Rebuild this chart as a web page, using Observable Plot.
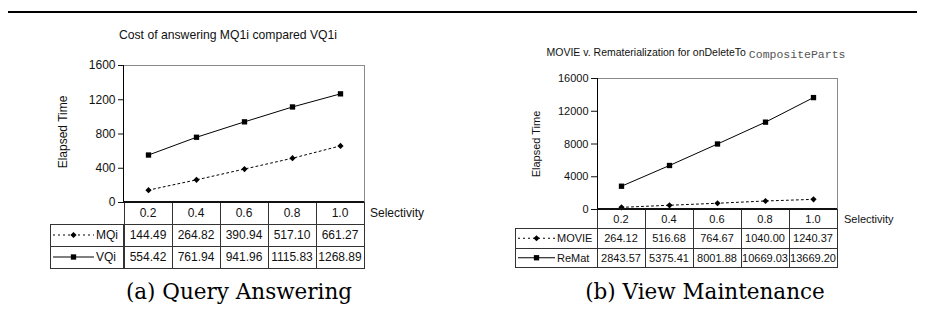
<!DOCTYPE html>
<html>
<head>
<meta charset="utf-8">
<script src="https://cdn.jsdelivr.net/npm/d3@7"></script>
<script src="https://cdn.jsdelivr.net/npm/@observablehq/plot@0.6"></script>
<style>
  body { margin: 0; background: #fff; }
  #root { position: relative; width: 925px; height: 335px; overflow: hidden; font-family: "Liberation Sans", Arial, sans-serif; }
  .toprule { position: absolute; left: 8px; top: 11px; width: 909px; height: 2px; background: #000; }
  .title { position: absolute; text-align: center; white-space: nowrap; color: #111; line-height: 14px; }
  .mono { font-family: "Liberation Mono", "Courier New", monospace; position: relative; top: 1.5px; color: #555; }
  .caption { position: absolute; text-align: center; white-space: nowrap; font-family: "DejaVu Serif", serif; font-size: 21.5px; line-height: 24px; color: #000; }
  .chart { position: absolute; top: 0; }
</style>
</head>
<body>
<div id="root">
  <div class="toprule"></div>
  <div class="title" style="left:28px;width:400px;top:28px;font-size:12.2px;">Cost of answering MQ1i compared VQ1i</div>
  <div class="title" style="left:496px;width:400px;top:45px;font-size:10.5px;">MOVIE v. Rematerialization for onDeleteTo <span class="mono" style="font-size:11.5px;">CompositeParts</span></div>
  <div id="chartA" class="chart" style="left:0px;"></div>
  <div id="chartB" class="chart" style="left:460px;"></div>
  <div class="caption" style="left:39px;width:400px;top:280px;">(a) Query Answering</div>
  <div class="caption" style="left:505px;width:400px;top:280px;">(b) View Maintenance</div>
</div>
<script>
// ---- data ----
const selectivity = ["0.2", "0.4", "0.6", "0.8", "1.0"];
const mqi   = [144.49, 264.82, 390.94, 517.10, 661.27];
const vqi   = [554.42, 761.94, 941.96, 1115.83, 1268.89];
const movie = [264.12, 516.68, 764.67, 1040.00, 1240.37];
const remat = [2843.57, 5375.41, 8001.88, 10669.03, 13669.20];
const ticksA = [0, 400, 800, 1200, 1600];
const ticksB = [0, 4000, 8000, 12000, 16000];
const yLabel = "Elapsed Time";
const xLabel = "Selectivity";

const symbolMap = { square: d3.symbolSquare, diamond2: d3.symbolDiamond2 };

function tableMark(series, cfg) {
  return (index, scales, values, dimensions) => {
    const x = scales.x;
    const {width, height, marginLeft, marginRight, marginTop, marginBottom} = dimensions;
    const bw = x.bandwidth ? x.bandwidth() : (width - marginLeft - marginRight) / selectivity.length;
    const x0 = marginLeft, x1 = width - marginRight;
    const yb = height - marginBottom;
    const rh = cfg.rowH;
    const g = d3.create("svg:g").attr("font-size", cfg.fontSize).attr("fill", "#111").attr("text-anchor", "middle");
    const lines = g.append("g").attr("stroke", "#333").attr("fill", "none").attr("shape-rendering", "crispEdges");
    // header row (categories)
    selectivity.forEach(c => {
      const cx = x(c);
      lines.append("rect").attr("x", cx).attr("y", yb).attr("width", bw).attr("height", rh);
      g.append("text").attr("x", cx + bw / 2).attr("y", yb + rh / 2).attr("dy", "0.36em").text(c);
    });
    // series rows
    series.forEach((s, j) => {
      const ry = yb + rh * (j + 1);
      lines.append("rect").attr("x", cfg.legendLeft).attr("y", ry).attr("width", x0 - cfg.legendLeft).attr("height", rh);
      const my = ry + rh / 2;
      g.append("line").attr("x1", cfg.legendLeft + 3).attr("x2", cfg.legendLeft + 3 + cfg.swatch)
        .attr("y1", my).attr("y2", my).attr("stroke", "#000").attr("stroke-width", 1)
        .attr("stroke-dasharray", s.dash || null);
      g.append("path").attr("transform", `translate(${cfg.legendLeft + 3 + cfg.swatch / 2},${my})`)
        .attr("d", d3.symbol(symbolMap[s.symbol], Math.PI * s.r * s.r)()).attr("fill", "#000");
      g.append("text").attr("x", cfg.legendLeft + 5 + cfg.swatch).attr("y", my).attr("dy", "0.36em")
        .attr("text-anchor", "start").text(s.name);
      selectivity.forEach((c, i) => {
        const cx = x(c);
        lines.append("rect").attr("x", cx).attr("y", ry).attr("width", bw).attr("height", rh);
        g.append("text").attr("x", cx + bw / 2).attr("y", my).attr("dy", "0.36em").text(s.values[i].toFixed(2));
      });
    });
    // axis lines
    g.append("line").attr("x1", x0).attr("x2", x0).attr("y1", marginTop).attr("y2", yb)
      .attr("stroke", "#000").attr("shape-rendering", "crispEdges");
    g.append("line").attr("x1", x0).attr("x2", x1).attr("y1", yb).attr("y2", yb)
      .attr("stroke", "#111").attr("stroke-width", 2).attr("shape-rendering", "crispEdges");
    g.append("text").attr("x", x1 + cfg.selGap).attr("y", yb + rh / 2).attr("dy", "0.36em")
      .attr("text-anchor", "start").text(xLabel);
    return g.node();
  };
}

function chart(series, cfg) {
  const marks = [
    Plot.frame({stroke: "#8a8a8a"}),
    Plot.axisY({ticks: cfg.ticks, tickSize: cfg.tickSize, tickPadding: 3, label: null, tickFormat: d => String(d)}),
    Plot.text([yLabel], {frameAnchor: "left", textAnchor: "middle", rotate: -90, dx: cfg.yLabelDx, dy: cfg.yLabelDy, fontSize: cfg.fontSize})
  ];
  series.forEach(s => {
    const rows = selectivity.map((c, i) => ({x: c, y: s.values[i]}));
    marks.push(Plot.line(rows, {x: "x", y: "y", stroke: "#000", strokeWidth: 1, strokeDasharray: s.dash || undefined}));
    marks.push(Plot.dot(rows, {x: "x", y: "y", symbol: s.symbol, r: s.r, fill: "#000", stroke: "none"}));
  });
  marks.push(tableMark(series, cfg));
  return Plot.plot({
    width: cfg.width,
    height: 280,
    marginLeft: cfg.marginLeft,
    marginRight: cfg.marginRight,
    marginTop: cfg.marginTop,
    marginBottom: 280 - cfg.bottomY,
    x: {type: "band", domain: selectivity, padding: 0, axis: null},
    y: {domain: [cfg.ticks[0], cfg.ticks[cfg.ticks.length - 1]], axis: null},
    style: {fontFamily: "'Liberation Sans', Arial, sans-serif", fontSize: cfg.fontSize + "px", color: "#111", background: "transparent", overflow: "visible"},
    marks
  });
}

const seriesA = [
  {name: "MQi", values: mqi, dash: "2,3", symbol: "diamond2", r: 2.8},
  {name: "VQi", values: vqi, dash: null, symbol: "square", r: 3}
];
const seriesB = [
  {name: "MOVIE", values: movie, dash: "2,3", symbol: "diamond2", r: 2.8},
  {name: "ReMat", values: remat, dash: null, symbol: "square", r: 3}
];

document.getElementById("chartA").append(chart(seriesA, {
  width: 460, marginLeft: 123, marginRight: 96, marginTop: 65, bottomY: 202,
  ticks: ticksA, tickSize: 5, fontSize: 12, yLabelDx: -60, yLabelDy: -2,
  rowH: 22, legendLeft: 50, swatch: 41, selGap: 6
}));
document.getElementById("chartB").append(chart(seriesB, {
  width: 465, marginLeft: 137, marginRight: 88, marginTop: 78, bottomY: 209,
  ticks: ticksB, tickSize: 6, fontSize: 11, yLabelDx: -61, yLabelDy: 0,
  rowH: 19.5, legendLeft: 55, swatch: 37, selGap: 7
}));
</script>
</body>
</html>
